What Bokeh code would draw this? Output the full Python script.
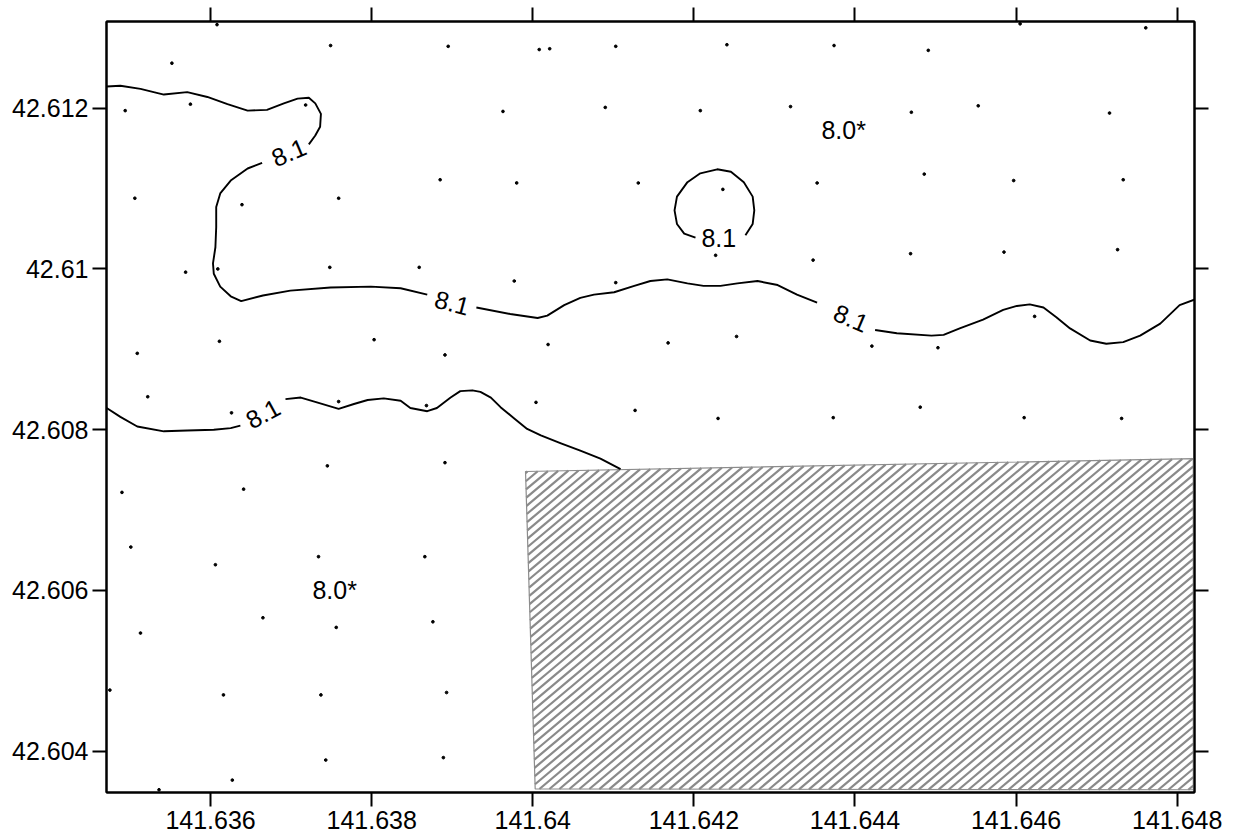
from bokeh.plotting import figure
from bokeh.models import Range1d, LinearAxis, FixedTicker, ColumnDataSource
from bokeh.core.properties import value
from bokeh.embed import file_html
from bokeh.resources import INLINE

# Axis ticks (longitude / latitude, degrees)
lon_ticks = [141.636, 141.638, 141.640, 141.642, 141.644, 141.646, 141.648]
lon_tick_labels = ["141.636", "141.638", "141.64", "141.642", "141.644", "141.646", "141.648"]
lat_ticks = [42.604, 42.606, 42.608, 42.610, 42.612]
lat_tick_labels = ["42.604", "42.606", "42.608", "42.61", "42.612"]

# Sampling stations
station_lon = [141.63608, 141.63749, 141.63552, 141.63494, 141.63575, 141.63718, 141.63506, 141.63639,
               141.63759, 141.63569, 141.63609, 141.63748, 141.63859, 141.63895, 141.64008, 141.64021,
               141.64103, 141.64241, 141.63963, 141.64090, 141.64208, 141.64320, 141.63885, 141.63980,
               141.64131, 141.64236, 141.64353, 141.63977, 141.64103, 141.64227, 141.64348, 141.64374,
               141.64491, 141.64605, 141.64761, 141.64470, 141.64553, 141.64716, 141.64486, 141.64597,
               141.64733, 141.64469, 141.64585, 141.64726, 141.64623, 141.63509, 141.63611, 141.63803,
               141.63522, 141.63626, 141.63759, 141.63745, 141.63490, 141.63641, 141.63501, 141.63606,
               141.63734, 141.63665, 141.63756, 141.63513, 141.63891, 141.64019, 141.64168, 141.64253,
               141.63868, 141.64004, 141.64127, 141.64230, 141.63891, 141.63866, 141.63876, 141.64421,
               141.64503, 141.64373, 141.64481, 141.64610, 141.64731, 141.63475, 141.63616, 141.63737,
               141.63743, 141.63627, 141.63536, 141.63893, 141.63889]
station_lat = [42.61304, 42.61278, 42.61256, 42.61197, 42.61205, 42.61204, 42.61088, 42.61080,
               42.61088, 42.60996, 42.61000, 42.61002, 42.61002, 42.61277, 42.61273, 42.61274,
               42.61277, 42.61279, 42.61196, 42.61201, 42.61197, 42.61202, 42.61111, 42.61107,
               42.61107, 42.61099, 42.61107, 42.60985, 42.60983, 42.61017, 42.61011, 42.61278,
               42.61272, 42.61305, 42.61300, 42.61195, 42.61203, 42.61194, 42.61118, 42.61110,
               42.61111, 42.61019, 42.61021, 42.61024, 42.60941, 42.60895, 42.60910, 42.60912,
               42.60841, 42.60821, 42.60835, 42.60755, 42.60722, 42.60726, 42.60654, 42.60632,
               42.60642, 42.60566, 42.60554, 42.60547, 42.60893, 42.60906, 42.60908, 42.60916,
               42.60830, 42.60834, 42.60824, 42.60814, 42.60759, 42.60642, 42.60561, 42.60904,
               42.60902, 42.60815, 42.60828, 42.60815, 42.60814, 42.60476, 42.60470, 42.60470,
               42.60389, 42.60364, 42.60352, 42.60473, 42.60392]

# 8.1 contour, split where the labels sit
contour_a1_lon = [141.63471, 141.63488, 141.63513, 141.63542, 141.63571, 141.63596, 141.63621, 141.63646,
                  141.63670, 141.63691, 141.63708, 141.63722, 141.63730, 141.63737, 141.63736, 141.63730,
                  141.63722]
contour_a1_lat = [42.61227, 42.61228, 42.61224, 42.61217, 42.61220, 42.61214, 42.61205, 42.61197,
                  42.61198, 42.61206, 42.61212, 42.61213, 42.61206, 42.61193, 42.61177, 42.61166,
                  42.61155]
contour_a2_lon = [141.63664, 141.63646, 141.63625, 141.63612, 141.63607, 141.63607, 141.63606, 141.63603,
                  141.63604, 141.63612, 141.63625, 141.63638, 141.63665, 141.63699, 141.63749, 141.63799,
                  141.63836, 141.63869]
contour_a2_lat = [42.61132, 42.61125, 42.61110, 42.61094, 42.61077, 42.61052, 42.61027, 42.61007,
                  42.60994, 42.60978, 42.60966, 42.60960, 42.60967, 42.60973, 42.60977, 42.60978,
                  42.60976, 42.60968]
contour_a3_lon = [141.63930, 141.63972, 141.64006, 141.64018, 141.64039, 141.64059, 141.64076, 141.64101,
                  141.64126, 141.64146, 141.64167, 141.64192, 141.64212, 141.64233, 141.64254, 141.64279,
                  141.64304, 141.64328, 141.64353]
contour_a3_lat = [42.60952, 42.60944, 42.60939, 42.60942, 42.60955, 42.60964, 42.60968, 42.60971,
                  42.60979, 42.60985, 42.60987, 42.60982, 42.60979, 42.60979, 42.60982, 42.60985,
                  42.60980, 42.60968, 42.60958]
contour_a4_lon = [141.64425, 141.64452, 141.64495, 141.64510, 141.64530, 141.64559, 141.64584, 141.64601,
                  141.64617, 141.64634, 141.64650, 141.64667, 141.64692, 141.64712, 141.64733, 141.64754,
                  141.64779, 141.64803, 141.64822]
contour_a4_lat = [42.60924, 42.60920, 42.60917, 42.60918, 42.60926, 42.60937, 42.60949, 42.60954,
                  42.60956, 42.60952, 42.60940, 42.60926, 42.60911, 42.60907, 42.60909, 42.60917,
                  42.60932, 42.60955, 42.60962]
contour_b_lon = [141.64202, 141.64188, 141.64179, 141.64176, 141.64179, 141.64192, 141.64208, 141.64229,
                 141.64246, 141.64262, 141.64273, 141.64275, 141.64273, 141.64264]
contour_b_lat = [42.61039, 42.61044, 42.61056, 42.61073, 42.61090, 42.61108, 42.61119, 42.61124,
                 42.61121, 42.61108, 42.61090, 42.61073, 42.61056, 42.61042]
contour_c1_lon = [141.63471, 141.63488, 141.63509, 141.63542, 141.63571, 141.63604, 141.63625, 141.63637]
contour_c1_lat = [42.60827, 42.60816, 42.60804, 42.60798, 42.60799, 42.60800, 42.60802, 42.60805]
contour_c2_lon = [141.63693, 141.63712, 141.63732, 141.63759, 141.63778, 141.63795, 141.63815, 141.63836,
                  141.63848, 141.63869, 141.63881, 141.63898, 141.63910, 141.63925, 141.63935, 141.63948,
                  141.63960, 141.63977, 141.63993, 141.64010, 141.64035, 141.64059, 141.64084, 141.64109]
contour_c2_lat = [42.60838, 42.60840, 42.60834, 42.60826, 42.60832, 42.60837, 42.60839, 42.60836,
                  42.60827, 42.60823, 42.60827, 42.60840, 42.60848, 42.60849, 42.60847, 42.60840,
                  42.60828, 42.60814, 42.60801, 42.60793, 42.60783, 42.60774, 42.60764, 42.60751]

# Contour labels (position and rotation in radians)
label_lon = [141.63697, 141.63900, 141.64395, 141.64231, 141.63665]
label_lat = [42.61145, 42.60958, 42.60939, 42.61039, 42.60820]
label_angle = [0.40, -0.26, -0.40, 0.0, 0.50]
label_text = ["8.1", "8.1", "8.1", "8.1", "8.1"]

# Region values without a contour line
region_lon = [141.63754, 141.64386]
region_lat = [42.60600, 42.61173]
region_text = ["8.0*", "8.0*"]

# Blanked (no data) zone
zone_lon = [141.63991, 141.64820, 141.64820, 141.64003]
zone_lat = [42.60748, 42.60764, 42.60352, 42.60353]

FONT = "Liberation Sans"
TEXT_SIZE = "25px"

# hatch style: line slope (deg lat per deg lon) and spacing of intercepts
HATCH_SLOPE = 0.842
HATCH_STEP = 1.045e-4


def hatch_segments(px, py, slope, step):
    """Parallel lines lat = slope*lon + c, clipped to the convex polygon (px, py)."""
    vals = [y - slope * x for x, y in zip(px, py)]
    xs, ys = [], []
    n = len(px)
    c = min(vals) + step / 2
    while c < max(vals):
        pts = []
        for i in range(n):
            x1, y1 = px[i], py[i]
            x2, y2 = px[(i + 1) % n], py[(i + 1) % n]
            f1 = y1 - slope * x1 - c
            f2 = y2 - slope * x2 - c
            if (f1 < 0) != (f2 < 0):
                t = f1 / (f1 - f2)
                pts.append((x1 + t * (x2 - x1), y1 + t * (y2 - y1)))
        if len(pts) >= 2:
            pts.sort()
            xs.append([pts[0][0], pts[-1][0]])
            ys.append([pts[0][1], pts[-1][1]])
        c += step
    return xs, ys


p = figure(width=1236, height=839, output_backend="svg", toolbar_location=None,
           x_range=Range1d(141.634708, 141.648215), y_range=Range1d(42.603486, 42.613079),
           min_border_left=106, min_border_right=42, min_border_top=21, min_border_bottom=47)
p.background_fill_color = "white"
p.border_fill_color = "white"
p.grid.visible = False
p.outline_line_color = "black"
p.outline_line_width = 2

p.add_layout(LinearAxis(), "above")
p.add_layout(LinearAxis(), "right")


def style_axis(ax, ticks, labels, show):
    ax.ticker = FixedTicker(ticks=ticks)
    ax.major_tick_out = 14
    ax.major_tick_in = 0
    ax.minor_tick_line_color = None
    ax.major_tick_line_width = 2
    ax.major_tick_line_color = "black"
    ax.axis_line_width = 2
    ax.axis_line_color = "black"
    ax.major_label_text_font = FONT
    ax.major_label_text_color = "black"
    if show:
        ax.major_label_overrides = dict(zip(ticks, labels))
        ax.major_label_text_font_size = TEXT_SIZE
        ax.major_label_standoff = 4
    else:
        ax.major_label_overrides = {t: "" for t in ticks}
        ax.major_label_text_font_size = "1px"
        ax.major_label_standoff = 0


style_axis(p.below[0], lon_ticks, lon_tick_labels, True)
style_axis(p.left[0], lat_ticks, lat_tick_labels, True)
style_axis(p.above[0], lon_ticks, lon_tick_labels, False)
style_axis(p.right[0], lat_ticks, lat_tick_labels, False)

# hatched blanking zone
hx, hy = hatch_segments(zone_lon, zone_lat, HATCH_SLOPE, HATCH_STEP)
p.multi_line(xs=hx, ys=hy, line_color="#8a8a8a", line_width=2.2)
p.patch(zone_lon, zone_lat, fill_color=None, line_color="#8c8c8c", line_width=1.2)

# contour lines
p.multi_line(xs=[contour_a1_lon, contour_a2_lon, contour_a3_lon, contour_a4_lon, contour_b_lon,
                 contour_c1_lon, contour_c2_lon],
             ys=[contour_a1_lat, contour_a2_lat, contour_a3_lat, contour_a4_lat, contour_b_lat,
                 contour_c1_lat, contour_c2_lat],
             line_color="black", line_width=1.9, line_join="round")

# stations
p.scatter(station_lon, station_lat, marker="circle", size=2.7, color="black")

labels_src = ColumnDataSource(dict(x=label_lon, y=label_lat, a=label_angle, t=label_text))
p.text(x="x", y="y", text="t", angle="a", source=labels_src, text_font=value(FONT),
       text_font_size=TEXT_SIZE, text_align="center", text_baseline="middle", text_color="black")

region_src = ColumnDataSource(dict(x=region_lon, y=region_lat, t=region_text))
p.text(x="x", y="y", text="t", source=region_src, text_font=value(FONT),
       text_font_size=TEXT_SIZE, text_align="center", text_baseline="middle", text_color="black")

open("out.html", "w").write(file_html(p, INLINE))
